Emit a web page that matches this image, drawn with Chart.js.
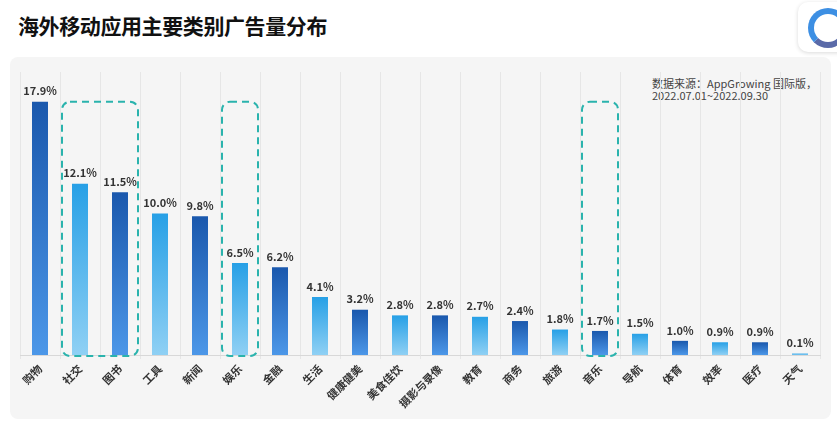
<!DOCTYPE html>
<html>
<head>
<meta charset="utf-8">
<script src="https://cdn.jsdelivr.net/npm/chart.js@4"></script>
<style>
  body { margin: 0; background: #fff; font-family: "Noto Sans CJK SC", "Noto Sans", sans-serif; }
  #wrap { position: relative; width: 837px; height: 424px; overflow: hidden; }
  #panel { position: absolute; left: 10px; top: 57px; width: 821px; height: 362px; background: #f5f5f5; border-radius: 8px; }
  #title { position: absolute; left: 18px; top: 10px; font-size: 21px; font-weight: bold; color: #111; letter-spacing: -0.4px; }
  #note { position: absolute; left: 652px; top: 77px; font-size: 11px; line-height: 12px; color: #444; }
  #logo { position: absolute; left: 798px; top: 2px; width: 60px; height: 50px; background: #fff; border-radius: 10px; box-shadow: 0 1px 4px rgba(0,0,0,0.15); }
  #logo div { position: absolute; left: 10px; top: 6px; width: 28px; height: 28px; border-radius: 50%; border: 6px solid #3d8fe3; border-right-color: transparent; border-bottom-color: #5a6aa8; }
  canvas { position: absolute; left: 0; top: 0; }
</style>
</head>
<body>
<div id="wrap">
  <div id="panel"></div>
  <div id="title">海外移动应用主要类别广告量分布</div>
  <div id="logo"><div></div></div>
  <div id="note">数据来源：AppGrowing 国际版，<br>2022.07.01~2022.09.30</div>
  <canvas id="chart" width="837" height="424"></canvas>
</div>
<script>
// 类别与广告量占比（%）
const categories = ['购物', '社交', '图书', '工具', '新闻', '娱乐', '金融', '生活', '健康健美', '美食佳饮',
  '摄影与录像', '教育', '商务', '旅游', '音乐', '导航', '体育', '效率', '医疗', '天气'];
const shares = [17.9, 12.1, 11.5, 10.0, 9.8, 6.5, 6.2, 4.1, 3.2, 2.8, 2.8, 2.7, 2.4, 1.8, 1.7, 1.5, 1.0, 0.9, 0.9, 0.1];

// 虚线框标出的类别（起止下标）
const highlights = [[1, 2], [5, 5], [14, 14]];

// 深色 / 浅色渐变交替
const darkGrad = ['#1a58ad', '#4c97e8'];
const lightGrad = ['#27a0e6', '#8fd0f4'];

const barFill = (ctx) => {
  const chart = ctx.chart;
  if (!chart.chartArea || ctx.type !== 'data') return darkGrad[0];
  const y = chart.scales.y;
  const top = y.getPixelForValue(shares[ctx.dataIndex]);
  const bottom = y.getPixelForValue(0);
  const colors = ctx.dataIndex % 2 === 0 ? darkGrad : lightGrad;
  const g = chart.ctx.createLinearGradient(0, top, 0, bottom);
  g.addColorStop(0, colors[0]);
  g.addColorStop(1, colors[1]);
  return g;
};

// 柱顶数值
const valueLabels = {
  id: 'valueLabels',
  afterDatasetsDraw(chart) {
    const ctx = chart.ctx;
    ctx.save();
    ctx.font = 'bold 11px "Noto Sans CJK SC", "Noto Sans", sans-serif';
    ctx.fillStyle = '#333';
    ctx.textAlign = 'center';
    ctx.textBaseline = 'bottom';
    chart.getDatasetMeta(0).data.forEach((bar, i) => {
      ctx.fillText(shares[i].toFixed(1) + '%', bar.x, bar.y - 5);
    });
    ctx.restore();
  }
};

// 青色虚线圆角框
const dashedBoxes = {
  id: 'dashedBoxes',
  afterDatasetsDraw(chart) {
    const ctx = chart.ctx;
    const x = chart.scales.x;
    const y = chart.scales.y;
    const half = (x.getPixelForValue(1) - x.getPixelForValue(0)) / 2 - 2;
    const top = y.getPixelForValue(Math.max(...shares));
    const bottom = y.getPixelForValue(0) + 1;
    ctx.save();
    ctx.strokeStyle = '#2ab3ad';
    ctx.lineWidth = 2;
    ctx.setLineDash([7, 5]);
    highlights.forEach(([a, b]) => {
      const left = x.getPixelForValue(a) - half;
      const right = x.getPixelForValue(b) + half;
      ctx.beginPath();
      ctx.roundRect(left, top, right - left, bottom - top, 8);
      ctx.stroke();
    });
    ctx.restore();
  }
};

new Chart(document.getElementById('chart'), {
  type: 'bar',
  data: {
    labels: categories,
    datasets: [{
      data: shares,
      backgroundColor: barFill,
      barPercentage: 0.8,
      categoryPercentage: 0.5
    }]
  },
  options: {
    responsive: false,
    animation: false,
    layout: { padding: { left: 20, right: 17, top: 72, bottom: 0 } },
    plugins: { legend: { display: false }, tooltip: { enabled: false } },
    scales: {
      y: { display: false, min: 0, max: 20 },
      x: {
        afterFit: (s) => { s.height = 69; },
        grid: { offset: true, color: '#e6e6e6', tickLength: 4 },
        border: { color: '#d8d8d8' },
        ticks: {
          minRotation: 45,
          maxRotation: 45,
          color: '#333',
          font: { size: 11, weight: 'bold', family: '"Noto Sans CJK SC", "Noto Sans", sans-serif' }
        }
      }
    }
  },
  plugins: [valueLabels, dashedBoxes]
});
</script>
</body>
</html>
